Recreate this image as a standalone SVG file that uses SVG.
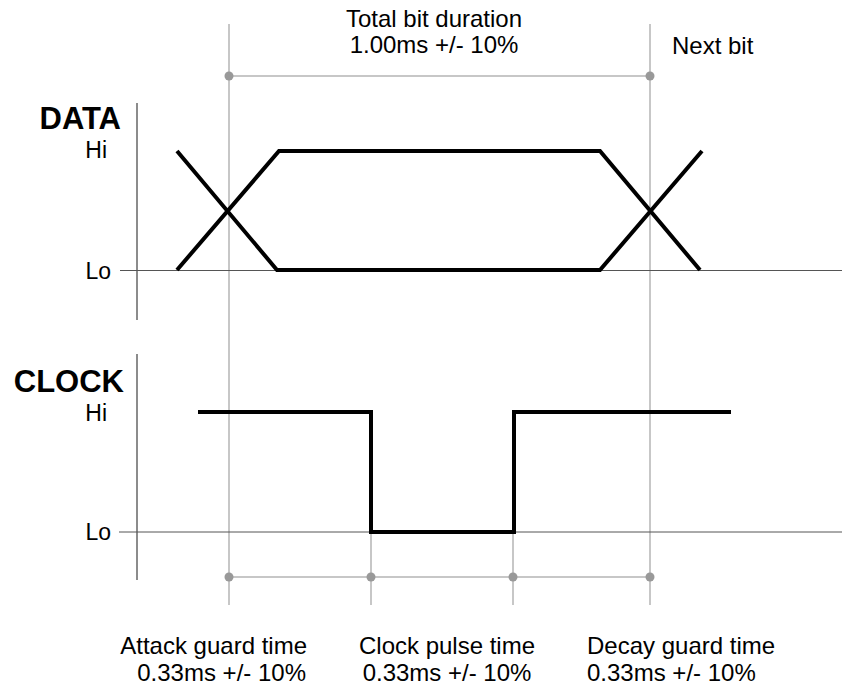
<svg xmlns="http://www.w3.org/2000/svg" width="842" height="691" viewBox="0 0 842 691">
<style>
text{font-family:"Liberation Sans",Arial,sans-serif;font-size:24px;fill:#000}
.s{font-size:23px}
.b{font-weight:bold;font-size:31px}
.guide{stroke:#b4b4b4;stroke-width:1.5;fill:none}
.axis{stroke:#666;stroke-width:1.5;fill:none}
.base{stroke:#555;stroke-width:1;fill:none}
.wave{stroke:#000;stroke-width:4;fill:none;stroke-linejoin:miter}
.dot{fill:#999}
</style>
<rect width="842" height="691" fill="#fff"/>
<g id="connectors">
<line class="guide" x1="229" y1="24" x2="229" y2="605"/>
<line class="guide" x1="650" y1="24" x2="650" y2="605"/>
<line class="guide" x1="371" y1="532" x2="371" y2="605"/>
<line class="guide" x1="513" y1="440" x2="513" y2="605"/>
<line class="guide" x1="229" y1="76" x2="650" y2="76"/>
<line class="guide" x1="229" y1="577" x2="650" y2="577"/>
<line class="axis" x1="137" y1="103" x2="137" y2="320"/>
<line class="axis" x1="137" y1="354" x2="137" y2="580"/>
<line class="base" x1="120" y1="270.5" x2="842" y2="270.5"/>
<line class="base" x1="119" y1="532" x2="842" y2="532"/>
</g>
<g id="dots">
<circle class="dot" cx="229" cy="76" r="4.5"/>
<circle class="dot" cx="650" cy="76" r="4.5"/>
<circle class="dot" cx="229" cy="577" r="4.5"/>
<circle class="dot" cx="371" cy="577" r="4.5"/>
<circle class="dot" cx="513" cy="577" r="4.5"/>
<circle class="dot" cx="650" cy="577" r="4.5"/>
</g>
<g id="data-wave">
<polyline class="wave" points="177,270 279,151 600,151 700,270"/>
<polyline class="wave" points="177,151 277,270 600,270 702,151"/>
</g>
<g id="clock-wave">
<polyline class="wave" points="198,412 371,412 371,532 514,532 514,412 731,412"/>
</g>
<g id="labels">
<text class="b" x="121" y="129" text-anchor="end">DATA</text>
<text class="s" x="107" y="158" text-anchor="end">Hi</text>
<text class="s" x="111" y="279" text-anchor="end">Lo</text>
<text class="b" x="124" y="392" text-anchor="end">CLOCK</text>
<text class="s" x="107" y="421" text-anchor="end">Hi</text>
<text class="s" x="111" y="540" text-anchor="end">Lo</text>
<text x="434" y="27" text-anchor="middle">Total bit duration</text>
<text x="434" y="53" text-anchor="middle">1.00ms +/- 10%</text>
<text x="672" y="54">Next bit</text>
<text x="307" y="654" text-anchor="end">Attack guard time</text>
<text x="306" y="681" text-anchor="end">0.33ms +/- 10%</text>
<text x="447" y="654" text-anchor="middle">Clock pulse time</text>
<text x="447" y="681" text-anchor="middle">0.33ms +/- 10%</text>
<text x="587" y="654">Decay guard time</text>
<text x="587" y="681">0.33ms +/- 10%</text>
</g>
</svg>
